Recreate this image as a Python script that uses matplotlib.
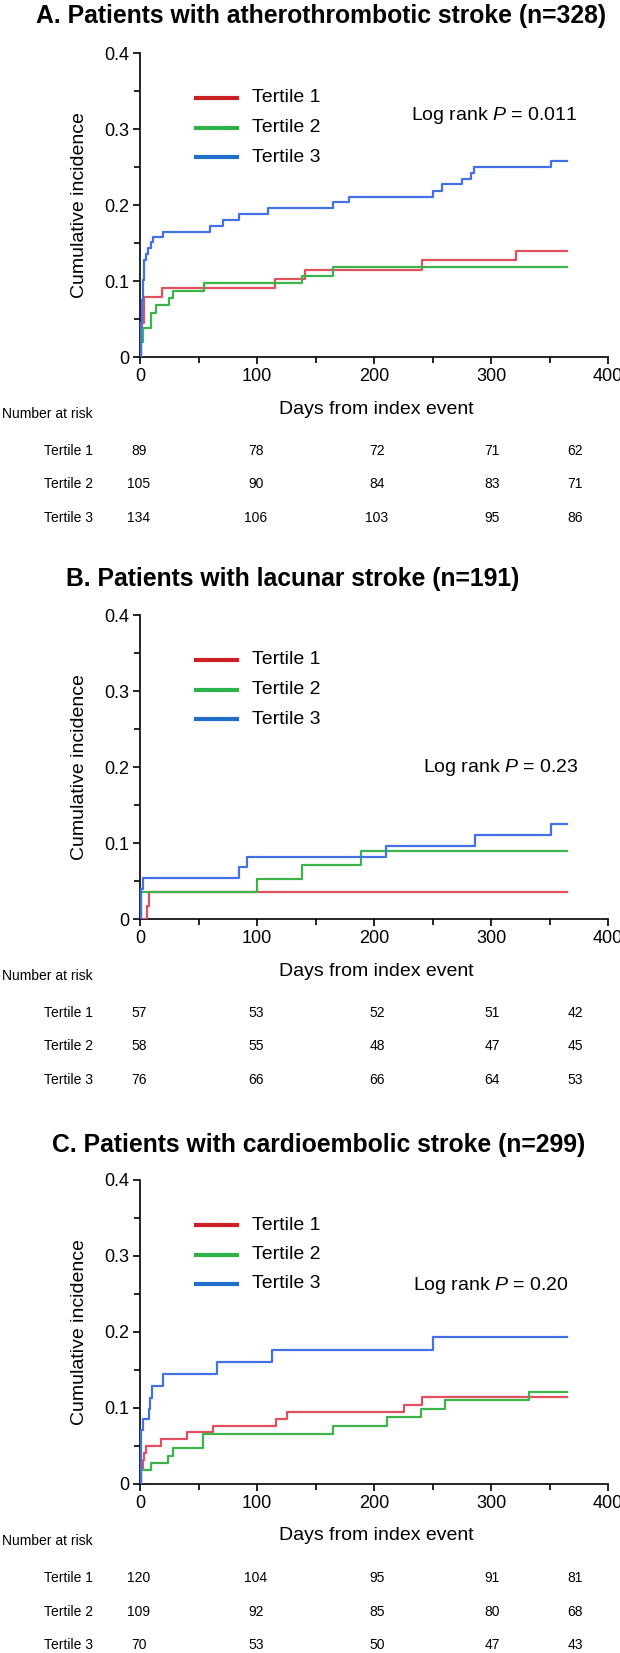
"""Cumulative incidence by tertile for three stroke subtypes, with number-at-risk tables."""
import matplotlib
matplotlib.use("Agg")
import matplotlib.pyplot as plt
from matplotlib.lines import Line2D
from matplotlib.ticker import MultipleLocator

plt.rcParams["font.family"] = ["Liberation Sans", "DejaVu Sans"]
plt.rcParams["mathtext.fontset"] = "custom"
plt.rcParams["mathtext.rm"] = "Liberation Sans"
plt.rcParams["mathtext.it"] = "Liberation Sans:italic"

W, H = 620, 1653

# ---- data ----
titles = ["A. Patients with atherothrombotic stroke (n=328)",
          "B. Patients with lacunar stroke (n=191)",
          "C. Patients with cardioembolic stroke (n=299)"]
pvals = ["0.011", "0.23", "0.20"]
groups = ["Tertile 1", "Tertile 2", "Tertile 3"]

a_t1_days = [0, 1, 2, 3, 18.5, 115.6, 141, 241, 321, 365]
a_t1_inc = [0, 0.022, 0.045, 0.079, 0.091, 0.1025, 0.114, 0.1276, 0.1395, 0.1395]
a_t2_days = [0, 1, 2.3, 9.1, 13.6, 25, 27.9, 54.7, 138.6, 165, 365]
a_t2_inc = [0, 0.0198, 0.0387, 0.0585, 0.068, 0.077, 0.0871, 0.0968, 0.107, 0.118, 0.118]
a_t3_days = [0, 0.7, 1.4, 2.3, 3.5, 5.1, 7.1, 9.1, 11.4, 19.8, 59.8, 70.6, 84.8,
             109.5, 165, 179, 250, 258, 275, 283, 285.5, 351, 365]
a_t3_inc = [0, 0.045, 0.075, 0.101, 0.128, 0.136, 0.143, 0.151, 0.158, 0.165, 0.173,
            0.180, 0.188, 0.196, 0.204, 0.211, 0.219, 0.227, 0.234, 0.242, 0.250, 0.258, 0.258]

b_t1_days = [0, 5.7, 7.7, 365]
b_t1_inc = [0, 0.0176, 0.036, 0.036]
b_t2_days = [0, 0.5, 99.6, 138.6, 188.6, 365]
b_t2_inc = [0, 0.036, 0.0528, 0.0717, 0.090, 0.090]
b_t3_days = [0, 0.5, 2.3, 84.8, 91.6, 210, 286, 351.6, 365]
b_t3_inc = [0, 0.0396, 0.0536, 0.068, 0.081, 0.0955, 0.110, 0.1245, 0.1245]

c_t1_days = [0, 1, 2.4, 3.5, 5.1, 17.6, 39.9, 62.1, 115.9, 125.3, 226, 241.4, 365]
c_t1_inc = [0, 0.02, 0.0317, 0.0405, 0.050, 0.0594, 0.0678, 0.0757, 0.0854, 0.095, 0.1043, 0.114, 0.114]
c_t2_days = [0, 0.9, 9.1, 23.6, 27.9, 54.1, 165, 210.7, 240.5, 260.5, 332.5, 365]
c_t2_inc = [0, 0.0185, 0.028, 0.0374, 0.047, 0.0656, 0.0766, 0.0876, 0.0986, 0.110, 0.121, 0.121]
c_t3_days = [0, 0.9, 2.8, 7.7, 8.5, 10, 19.9, 66, 112.5, 250.5, 365]
c_t3_inc = [0, 0.0713, 0.0858, 0.0986, 0.113, 0.129, 0.145, 0.160, 0.176, 0.193, 0.193]

risk_a = [[89, 78, 72, 71, 62], [105, 90, 84, 83, 71], [134, 106, 103, 95, 86]]
risk_b = [[57, 53, 52, 51, 42], [58, 55, 48, 47, 45], [76, 66, 66, 64, 53]]
risk_c = [[120, 104, 95, 91, 81], [109, 92, 85, 80, 68], [70, 53, 50, 47, 43]]

curves = [
    [(a_t1_days, a_t1_inc), (a_t2_days, a_t2_inc), (a_t3_days, a_t3_inc)],
    [(b_t1_days, b_t1_inc), (b_t2_days, b_t2_inc), (b_t3_days, b_t3_inc)],
    [(c_t1_days, c_t1_inc), (c_t2_days, c_t2_inc), (c_t3_days, c_t3_inc)],
]
risks = [risk_a, risk_b, risk_c]

# ---- layout (pixels) ----
CURVE_COLORS = ["#E0505E", "#3CB44A", "#4470E6"]
LEGEND_COLORS = ["#CC1F24", "#2DB34A", "#1F6FC8"]
AX_LEFT, AX_RIGHT = 140, 608
ax_tops = [53, 615, 1180]
AX_H = 304
title_left = [36, 66, 52]
title_dy = [37, 36, 35]
logrank_xy = [(577, 62), (579, 153), (569, 105)]
col_x = [139, 256, 377, 492, 575]


def fx(x):
    return x / W


def fy(y):
    return 1 - y / H


fig = plt.figure(figsize=(W / 100, H / 100), dpi=100)

for i in range(3):
    top = ax_tops[i]
    bot = top + AX_H
    ax = fig.add_axes([fx(AX_LEFT), fy(bot), (AX_RIGHT - AX_LEFT) / W, AX_H / H])
    for k, (d, v) in enumerate(curves[i]):
        ax.step(d, v, where="post", color=CURVE_COLORS[k], lw=1.6, zorder=3)
    ax.set_xlim(0, 400)
    ax.set_ylim(0, 0.4)
    ax.xaxis.set_major_locator(MultipleLocator(100))
    ax.xaxis.set_minor_locator(MultipleLocator(50))
    ax.yaxis.set_minor_locator(MultipleLocator(0.05))
    ax.set_yticks([0, 0.1, 0.2, 0.3, 0.4], ["0", "0.1", "0.2", "0.3", "0.4"])
    ax.tick_params(which="major", length=5, width=1.2, labelsize=13, pad=3)
    ax.tick_params(which="minor", length=4, width=1.2)
    for s in ["top", "right"]:
        ax.spines[s].set_visible(False)
    for s in ["left", "bottom"]:
        ax.spines[s].set_linewidth(1.2)
    ax.patch.set_alpha(0)

    # legend drawn by hand
    for k in range(3):
        ly = fy(top + 45 + 29.5 * k)
        fig.add_artist(Line2D([fx(196), fx(237)], [ly, ly], color=LEGEND_COLORS[k], lw=3,
                              transform=fig.transFigure))
        fig.text(fx(252), ly, groups[k], ha="left", va="center", fontsize=14)

    lx, ly = logrank_xy[i]
    fig.text(fx(lx), fy(top + ly), "Log rank $\\it{P}$ = " + pvals[i], ha="right", va="center",
             fontsize=14)

    fig.text(fx(title_left[i]), fy(top - title_dy[i]), titles[i], ha="left", va="center",
             fontsize=17.8, fontweight="bold")
    fig.text(fx(79), fy(top + AX_H / 2), "Cumulative incidence", rotation=90,
             ha="center", va="center", fontsize=14)
    fig.text(fx(376), fy(bot + 52), "Days from index event",
             ha="center", va="center", fontsize=14)
    fig.text(fx(2), fy(bot + 57), "Number at risk", ha="left", va="center", fontsize=10)
    for r in range(3):
        yy = fy(bot + 94 + 33.5 * r)
        fig.text(fx(93), yy, groups[r], ha="right", va="center", fontsize=10)
        for c in range(5):
            fig.text(fx(col_x[c]), yy, str(risks[i][r][c]), ha="center", va="center", fontsize=10)

fig.savefig("out.png", dpi=100, facecolor="white")
